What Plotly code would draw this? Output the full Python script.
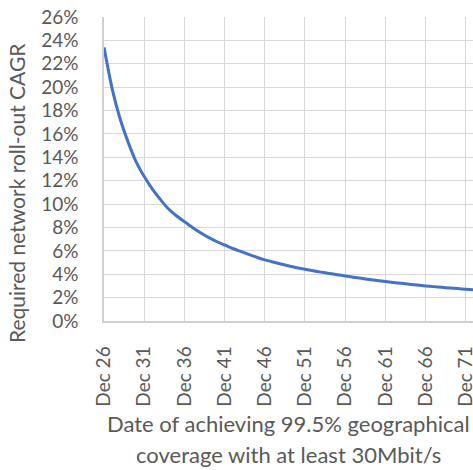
import plotly.graph_objects as go

# Data
years = list(range(2026, 2073))
cagr_pct = [23.4, 19.9, 17.3, 15.3, 13.6, 12.35, 11.3, 10.4, 9.6, 9.0,
            8.5, 8.0, 7.55, 7.15, 6.8, 6.5, 6.2, 5.95, 5.7, 5.45,
            5.23, 5.05, 4.88, 4.7, 4.55, 4.42, 4.3, 4.18, 4.07, 3.96,
            3.85, 3.75, 3.65, 3.55, 3.46, 3.37, 3.29, 3.22, 3.14, 3.07,
            3.0, 2.94, 2.88, 2.82, 2.77, 2.72, 2.67]
tick_years = [2026, 2031, 2036, 2041, 2046, 2051, 2056, 2061, 2066, 2071]
tick_labels = ["Dec 26", "Dec 31", "Dec 36", "Dec 41", "Dec 46",
               "Dec 51", "Dec 56", "Dec 61", "Dec 66", "Dec 71"]
y_title = "Required network roll-out CAGR"
x_title_lines = ["Date of achieving 99.5% geographical",
                 "coverage with at least 30Mbit/s"]

FONT = "Lato"
GREY = "#595959"
GRID = "#D9D9D9"

fig = go.Figure()
fig.add_trace(go.Scatter(
    x=years, y=cagr_pct, mode="lines",
    line=dict(color="#4472C4", width=3, shape="spline", smoothing=0.6),
    hoverinfo="skip", showlegend=False, cliponaxis=True,
))

fig.update_layout(
    width=473, height=470,
    margin=dict(l=104, r=0, t=17, b=149),
    paper_bgcolor="white", plot_bgcolor="white",
    font=dict(family=FONT, color=GREY, size=19),
    xaxis=dict(
        range=[2026, 2071.9], automargin=False,
        tickmode="array", tickvals=tick_years, ticktext=tick_labels,
        tickangle=-90, tickfont=dict(size=19, color=GREY, family=FONT),
        ticklabeloverflow="allow",
        showgrid=True, gridcolor=GRID, gridwidth=1.3,
        showline=True, linecolor="#D0D0D0", linewidth=1.5,
        zeroline=False, ticks="", ticklabelstandoff=16,
    ),
    yaxis=dict(
        range=[0, 26], dtick=2, tick0=0, ticksuffix="%", automargin=False,
        tickfont=dict(size=19, color=GREY, family=FONT),
        ticklabeloverflow="allow",
        showgrid=True, gridcolor=GRID, gridwidth=1.3,
        showline=True, linecolor="#D0D0D0", linewidth=1.5,
        zeroline=False, ticks="", ticklabelstandoff=20,
    ),
    annotations=[
        dict(text=y_title, xref="paper", yref="paper", x=0, y=0.5,
             xshift=-88, yshift=-24, xanchor="center", yanchor="middle",
             textangle=-90, showarrow=False,
             font=dict(size=21, color=GREY, family=FONT)),
        dict(text=x_title_lines[0], xref="paper", yref="paper", x=0.5, y=0,
             yshift=-102, xanchor="center", yanchor="middle",
             showarrow=False, font=dict(size=22, color=GREY, family=FONT)),
        dict(text=x_title_lines[1], xref="paper", yref="paper", x=0.5, y=0,
             yshift=-133, xanchor="center", yanchor="middle",
             showarrow=False, font=dict(size=22, color=GREY, family=FONT)),
    ],
)

fig.write_html(
    "out.html",
    config={"displayModeBar": False},
    post_script="document.body.style.margin='0';document.body.style.overflow='hidden';",
)
